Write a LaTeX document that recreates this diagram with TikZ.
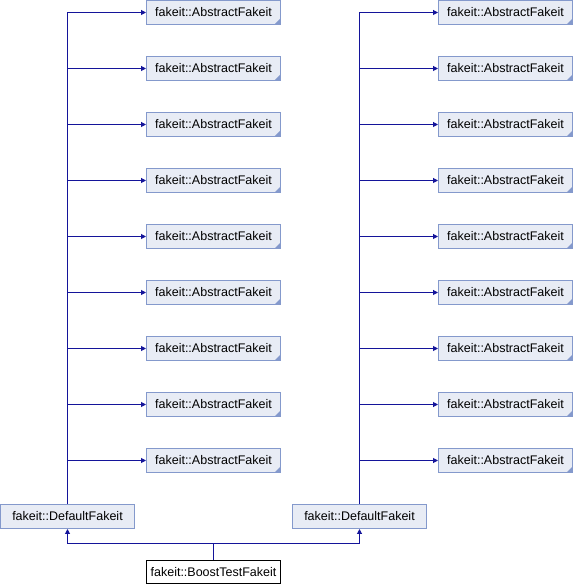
\documentclass[tikz,border=0pt]{standalone}
\usepackage{fontspec}
\setmainfont{Liberation Sans}
\usetikzlibrary{positioning, arrows.meta}
\definecolor{boxfill}{HTML}{E8ECF5}
\definecolor{boxline}{HTML}{8499CC}
\definecolor{edgeblue}{HTML}{14149A}

\tikzset{
  cls/.style={draw=boxline, fill=boxfill, line width=1bp, minimum width=134bp,
    minimum height=24bp, inner sep=0pt, font=\fontsize{12.5bp}{15bp}\selectfont},
  abstract/.style={cls, path picture={\fill[boxline] (path picture bounding box.south east)
    -- ++(-6bp,0) -- ++(6bp,6bp) -- cycle;}},
  derived/.style={cls, draw=black, fill=white, minimum height=23bp},
  branch/.style={to path={|- (\tikztotarget)}},
  inherit/.style={->, color=edgeblue, line width=1bp}
}

\begin{document}
\begin{tikzpicture}[x=1bp, y=1bp, node distance=56bp, on grid, >={Triangle[length=5bp,width=5bp]}]
   \useasboundingbox (0,0) rectangle (574,584);
   % Left base classes
   \node[abstract] (la1) at (213.5,571.5) {fakeit::AbstractFakeit};
   \node[abstract] (la2) [below=of la1] {fakeit::AbstractFakeit};
   \node[abstract] (la3) [below=of la2] {fakeit::AbstractFakeit};
   \node[abstract] (la4) [below=of la3] {fakeit::AbstractFakeit};
   \node[abstract] (la5) [below=of la4] {fakeit::AbstractFakeit};
   \node[abstract] (la6) [below=of la5] {fakeit::AbstractFakeit};
   \node[abstract] (la7) [below=of la6] {fakeit::AbstractFakeit};
   \node[abstract] (la8) [below=of la7] {fakeit::AbstractFakeit};
   \node[abstract] (la9) [below=of la8] {fakeit::AbstractFakeit};
   \node[cls] (ld) at (67.5,67.5) {fakeit::DefaultFakeit};

   % Right base classes
   \node[abstract] (ra1) at (505.5,571.5) {fakeit::AbstractFakeit};
   \node[abstract] (ra2) [below=of ra1] {fakeit::AbstractFakeit};
   \node[abstract] (ra3) [below=of ra2] {fakeit::AbstractFakeit};
   \node[abstract] (ra4) [below=of ra3] {fakeit::AbstractFakeit};
   \node[abstract] (ra5) [below=of ra4] {fakeit::AbstractFakeit};
   \node[abstract] (ra6) [below=of ra5] {fakeit::AbstractFakeit};
   \node[abstract] (ra7) [below=of ra6] {fakeit::AbstractFakeit};
   \node[abstract] (ra8) [below=of ra7] {fakeit::AbstractFakeit};
   \node[abstract] (ra9) [below=of ra8] {fakeit::AbstractFakeit};
   \node[cls] (rd) at (359.5,67.5) {fakeit::DefaultFakeit};

   % Derived class
   \node[derived] (bt) at (213.5,12) {fakeit::BoostTestFakeit};
   \coordinate (fork) at (213.5,40.5);

   % Left inheritance
   \path[inherit, branch]
   (ld) edge (la1) (ld) edge (la2) (ld) edge (la3)
   (ld) edge (la4) (ld) edge (la5) (ld) edge (la6)
   (ld) edge (la7) (ld) edge (la8) (ld) edge (la9);

   % Right inheritance
   \path[inherit, branch]
   (rd) edge (ra1) (rd) edge (ra2) (rd) edge (ra3)
   (rd) edge (ra4) (rd) edge (ra5) (rd) edge (ra6)
   (rd) edge (ra7) (rd) edge (ra8) (rd) edge (ra9);

   % BoostTestFakeit to both parents
   \draw[inherit, -] (bt) -- (fork);
   \draw[inherit] (fork) -| (ld);
   \draw[inherit] (fork) -| (rd);
\end{tikzpicture}
\end{document}
